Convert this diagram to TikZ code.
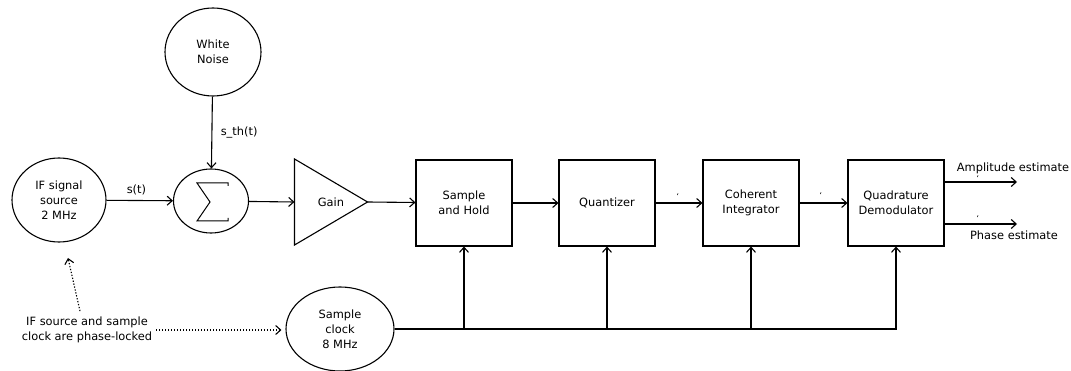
\documentclass[tikz,border=0pt]{standalone}
\usepackage{fontspec}
\setmainfont{DejaVu Sans}
\usetikzlibrary{shapes.geometric,arrows.meta,calc}
\begin{document}
\begin{tikzpicture}[x=1pt,y=-1pt,line width=1.1pt,
  font=\fontsize{11.4}{15}\selectfont,
  blk/.style={draw, minimum width=96, minimum height=86, inner sep=0pt, align=center},
  ell/.style={draw, ellipse, inner sep=0pt, align=center},
  sig/.style={-{Straight Barb[length=5pt,width=9pt,line width=1.1pt]}},
  dotline/.style={dash pattern=on 1.3pt off 1.7pt},
  stray/.style={font=\fontsize{8}{8}\selectfont, inner sep=0pt}]
\useasboundingbox (0,0) rectangle (1071,371);

% nodes
\node[ell, minimum width=96, minimum height=88] (noise) at (213,52) {White\\Noise};
\node[ell, minimum width=94, minimum height=84] (ifs) at (59,200) {IF signal\\source\\2 MHz};
\node[ell, minimum width=75, minimum height=64] (sum) at (211,201) {};
\node[minimum width=72, minimum height=85, inner sep=0pt] (gain) at (331,202) {Gain};
\node[blk] (sh) at (464,203) {Sample\\and Hold};
\node[blk] (qz) at (607,203) {Quantizer};
\node[blk] (ci) at (751,203) {Coherent\\Integrator};
\node[blk] (qd) at (896,203) {Quadrature\\Demodulator};
\node[ell, minimum width=108, minimum height=84] (clk) at (340,329) {Sample\\clock\\8 MHz};
\node[align=center] (note) at (87,330) {IF source and sample\\clock are phase-locked};
\node (amp) at (1013,168) {Amplitude estimate};
\node (ph) at (1014,235) {Phase estimate};
\coordinate (ampEnd) at (1017,182);
\coordinate (phEnd) at (1017,224);
\coordinate (lockTip) at (68,258);

% sigma symbol
\draw[line width=1pt] ($(sum.center)+(17,-15)$) -- ++(0,-3) -- ++(-31,0)
  -- ($(sum.center)+(-1,1)$) -- ($(sum.center)+(-14,20)$) -- ++(31,0) -- ++(0,-3);

% gain triangle
\draw (gain.north west) -- (gain.east) -- (gain.south west) -- cycle;

% signal path
\draw[sig] (noise) -- (sum) node[pos=0.5, right=5pt] {s\_th(t)};
\draw[sig] (ifs) -- (sum) node[pos=0.45, above=2pt] {s(t)};
\draw[sig] (sum) -- (gain.west);
\draw[sig] (gain.east) -- (sh);
\draw[sig] (sh) -- (qz);
\draw[sig] (qz) -- (ci);
\draw[sig] (ci) -- (qd);
\draw[sig] (qd.east |- ampEnd) -- (ampEnd);
\draw[sig] (qd.east |- phEnd) -- (phEnd);

% stray marks
\node[stray] at (678,197) {‘};
\node[stray] at (821,196) {‘};
\node[stray] at (978,179) {‘};
\node[stray] at (978,219) {‘};

% clock distribution
\draw[sig] (clk.east) -| (qd.south);
\draw[sig] (sh.south |- clk.east) -- (sh.south);
\draw[sig] (qz.south |- clk.east) -- (qz.south);
\draw[sig] (ci.south |- clk.east) -- (ci.south);

% phase-lock annotation
\draw[dotline, sig] ($(note.north)+(-7,-2)$) -- (lockTip);
\draw[dotline, sig] (note.east) -- ($(clk.west)+(-4,1)$);
\end{tikzpicture}
\end{document}
